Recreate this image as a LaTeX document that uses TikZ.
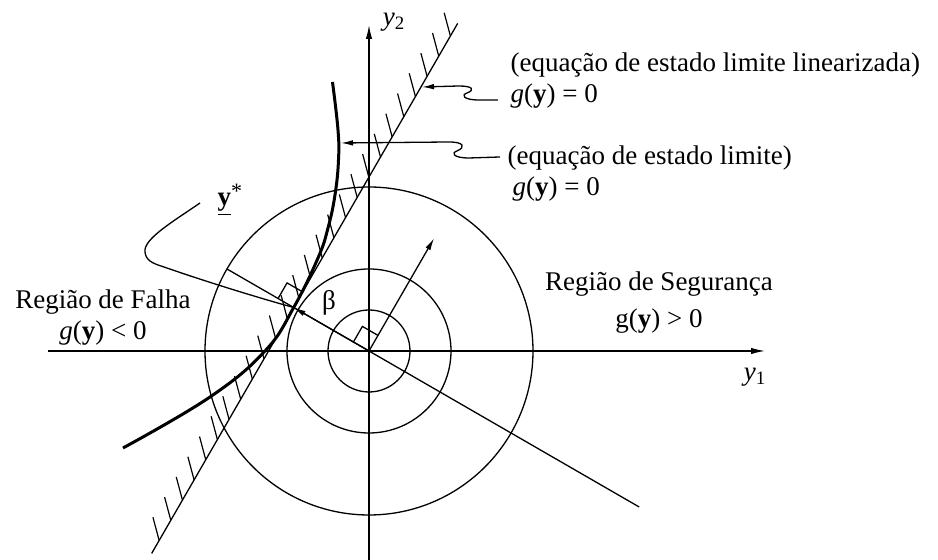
\documentclass[tikz,border=0pt]{standalone}
\usepackage{fontspec}
\setmainfont{Liberation Serif}
\usetikzlibrary{arrows.meta,calc}

\begin{document}
\begin{tikzpicture}[
  x=0.5pt,y=0.5pt,
  >={Latex[length=7pt,width=3.2pt]},
  line width=0.65pt,
  lbl/.style={inner sep=0pt,font=\fontsize{13.5}{15.5}\selectfont},
  axis/.style={->},
  limcurve/.style={line width=1.5pt},
  hatch/.style={line width=0.6pt},
  ptr/.style={-{Latex[length=6pt,width=2.8pt]}}
]
  \useasboundingbox (-369,-209) rectangle (569,351);
  \coordinate (O) at (0,0);
  \coordinate (D) at (150:87);
  \coordinate (L1) at ($(D)+(60:-284)$);
  \coordinate (L2) at ($(D)+(60:328)$);
  \coordinate (y1s) at (-321,0);
  \coordinate (y1e) at (396,0);
  \coordinate (y2s) at (0,-209);
  \coordinate (y2e) at (0,326);
  \coordinate (Bs) at (150:164);
  \coordinate (Be) at (-30:312);
  \coordinate (N) at (60:130);

  \foreach \r in {41,82,164}
    \draw (O) circle[radius=\r];
  \draw[axis] (y1s) -- (y1e);
  \draw[axis] (y2s) -- (y2e);
  \node[lbl] (y1lbl) at (386,-26) {\textit{y}\textsubscript{1}};
  \node[lbl] (y2lbl) at (25,329) {\textit{y}\textsubscript{2}};

  \draw (Bs) -- (Be);
  \draw[ptr] (O) -- (D);
  \draw[ptr] (O) -- (N);
  \draw (150:18) -- ++(60:18) -- (60:18);
  \draw ($(D)+(150:18)$) -- ++(60:18) -- ($(D)+(60:18)$);
  \node[lbl] (beta) at (-40,48) {β};

  \draw (L1) -- (L2);
  \foreach \i [evaluate=\i as \t using 15+23.3*\i] in {0,...,25}
    \draw[hatch] ($(L1)+(60:\t)$) -- ++(105:24);
  \draw[limcurve] plot[smooth,tension=0.7] coordinates {(-36.5,269) (-31,221) (-30.5,191) (-34,156) (-41,123) (-51,93) (-75.3,43.5) (-104,0) (-159,-46) (-246,-97)};

  \node[lbl,anchor=west,align=left] (linlbl) at (141,270.5) {(equação de estado limite linearizada)\\\textit{g}(\textbf{y}) = 0};
  \node[lbl,anchor=west,align=left] (limlbl) at (138,177) {(equação de estado limite)\\\hspace*{2.5pt}\textit{g}(\textbf{y}) = 0};
  \node[lbl,align=center] (falha) at (-266,33) {Região de Falha\\\textit{g}(\textbf{y}) < 0};
  \node[lbl,align=center] (seg) at (290,48.5) {Região de Segurança\\[3pt]g(\textbf{y}) > 0};
  \node[lbl] (ystar) at (-139,151) {\underline{\textbf{y}}\raisebox{0.55ex}{\fontsize{11}{11}\selectfont *}};

  \coordinate (p1) at (129,251);
  \coordinate (tip1) at (53,264);
  \coordinate (p2) at (131,194);
  \coordinate (tip2) at (-28,208);
  \coordinate (p3) at (-169,148);
  \draw[ptr] (p1) -- (110,251) .. controls (94,251) and (92,256) .. (98,258) .. controls (106,261) and (104,265) .. (90,265) -- (tip1);
  \draw[ptr] (p2) -- (100,193) .. controls (84,193) and (82,198) .. (88,200) .. controls (97,204) and (95,209) .. (80,209) -- (tip2);
  \draw (p3) .. controls (-195,130) and (-226,112) .. (-224,99) .. controls (-223,91) and (-218,88) .. (-205,84) .. controls (-165,70) and (-110,53) .. (D);
\end{tikzpicture}
\end{document}
